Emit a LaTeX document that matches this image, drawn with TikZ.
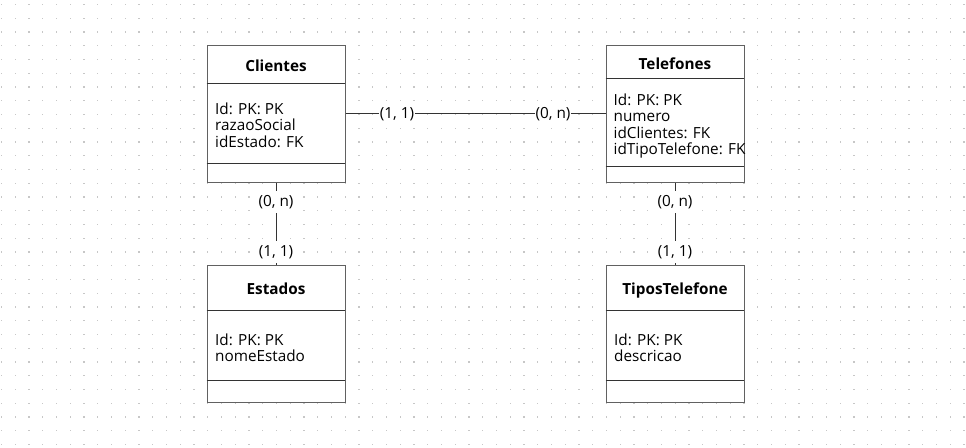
\documentclass[tikz,border=0pt]{standalone}
\usepackage{fontspec}
\setmainfont{Open Sans}
\begin{document}
\begin{tikzpicture}[x=1pt,y=-1pt,
  entity/.style={draw=black!62, line width=1pt, fill=white, minimum width=138pt, inner sep=0pt},
  sepline/.style={draw=black!80, line width=1pt},
  title/.style={font=\fontsize{15.3}{16.5}\selectfont\bfseries, anchor=base, inner sep=0pt},
  attrs/.style={font=\fontsize{15.3}{16.5}\selectfont, anchor=base west, align=left, inner sep=0pt},
  card/.style={font=\fontsize{15.3}{16.5}\selectfont, fill=white, inner xsep=1pt, inner ysep=0pt, minimum height=22pt},
  link/.style={draw=black!80, line width=1pt}]
\useasboundingbox (0,0) rectangle (966,447);
\fill[white] (0,0) rectangle (966,447);
\foreach \i in {0,...,70}{
  \foreach \j in {0,...,32}{
    \fill[black!22] ({1.5+13.75*\i-0.65},{4.5+13.75*\j-0.65}) rectangle ++(1.3,1.3);
  }
}
% Clientes
\node[entity, minimum height=137.7pt] (cli) at (276,113.85) {};
\draw[sepline] (cli.north west) ++(0,39) -- ++(138,0);
\draw[sepline] (cli.south west) ++(0,-20) -- ++(138,0);
\node[title] (cliT) at (276,71.7) {Clientes};
\node[attrs] (cliA) at (215,147) {Id: PK: PK\\razaoSocial\\idEstado: FK};
% Telefones
\node[entity, minimum height=137.7pt] (tel) at (675,113.85) {};
\draw[sepline] (tel.north west) ++(0,34.3) -- ++(138,0);
\draw[sepline] (tel.south west) ++(0,-17) -- ++(138,0);
\node[title] (telT) at (675,69) {Telefones};
\node[attrs] (telA) at (613.5,154.5) {Id: PK: PK\\numero\\idClientes: FK\\idTipoTelefone: FK};
% Estados
\node[entity, minimum height=137.3pt] (est) at (276,333.65) {};
\draw[sepline] (est.north west) ++(0,46) -- ++(138,0);
\draw[sepline] (est.south west) ++(0,-22.3) -- ++(138,0);
\node[title] (estT) at (276,294) {Estados};
\node[attrs] (estA) at (215,361.5) {Id: PK: PK\\nomeEstado};
% TiposTelefone
\node[entity, minimum height=137.3pt] (tip) at (675,333.65) {};
\draw[sepline] (tip.north west) ++(0,46) -- ++(138,0);
\draw[sepline] (tip.south west) ++(0,-22.3) -- ++(138,0);
\node[title] (tipT) at (675,294) {TiposTelefone};
\node[attrs] (tipA) at (614,361.5) {Id: PK: PK\\descricao};
% connectors
\draw[link] (cli) -- (tel) node[card,pos=0.198] (l1) {(1, 1)} node[card,pos=0.798] (l2) {(0, n)};
\draw[link] (cli) -- (est) node[card,pos=0.23] (l3) {(0, n)} node[card,pos=0.85] (l4) {(1, 1)};
\draw[link] (tel) -- (tip) node[card,pos=0.23] (l5) {(0, n)} node[card,pos=0.85] (l6) {(1, 1)};
\end{tikzpicture}
\end{document}
